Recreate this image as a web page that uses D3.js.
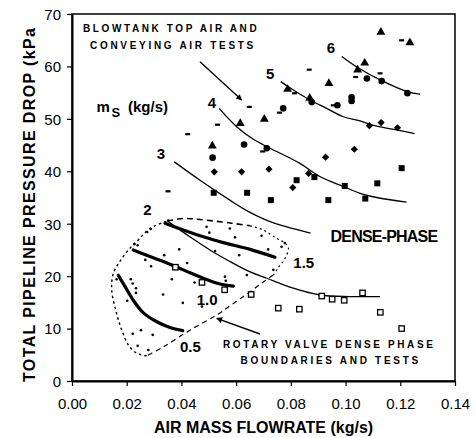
<!DOCTYPE html>
<html><head><meta charset="utf-8">
<script src="https://cdn.jsdelivr.net/npm/d3@7"></script>
<style>
body{margin:0;background:#fff;}
svg{display:block;font-family:"Liberation Sans",Arial,sans-serif;}
</style></head>
<body><svg id="c" width="475" height="438"></svg>
<script>
// ---- data (air mass flowrate kg/s, pressure drop kPa) ----
const xTicks = [0.00,0.02,0.04,0.06,0.08,0.10,0.12,0.14];
const yTicks = [0,10,20,30,40,50,60,70];

const triangles = [[0.0615,49.3],[0.0703,50.1],[0.0513,45.0],[0.0939,56.9],[0.0788,55.8],[0.0869,54.1],[0.1129,66.7],[0.1235,64.7],[0.107,60.8],[0.1044,59.5]];
const circles = [[0.0514,42.6],[0.0629,45.1],[0.0712,44.4],[0.0876,53.2],[0.0772,52.0],[0.097,52.6],[0.1022,53.4],[0.1022,54.1],[0.1078,57.7],[0.1132,57.2],[0.1226,54.9]];
const diamonds = [[0.052,39.9],[0.062,39.9],[0.072,40.4],[0.0927,42.7],[0.0865,39.6],[0.0807,36.9],[0.1032,44.2],[0.1087,48.7],[0.113,49.3],[0.119,48.3]];
const squares = [[0.0518,35.9],[0.064,35.9],[0.0727,34.5],[0.0821,38.3],[0.0886,38.9],[0.0937,34.5],[0.0997,37.2],[0.1072,34.8],[0.1116,37.7],[0.1205,40.6]];
const dashes = [[0.0648,52.3],[0.0532,48.9],[0.0423,47.1],[0.0351,36.2],[0.0867,59.4],[0.0813,54.9],[0.0758,51.2],[0.0697,43.8],[0.1205,65.0],[0.1126,58.7],[0.1037,58.0],[0.0955,52.6]];
const openSquares = [[0.0378,21.7],[0.0475,18.8],[0.0558,17.4],[0.0655,16.5],[0.0754,13.9],[0.0831,13.7],[0.0913,16.2],[0.0951,15.6],[0.0995,15.4],[0.1062,16.8],[0.1127,13.1],[0.1205,10.0]];
const dots = [[0.0228,26.1],[0.0240,25.9],[0.0268,23.1],[0.0289,21.9],[0.0337,24.0],[0.0392,25.1],[0.0421,22.5],[0.0365,19.4],[0.0333,16.5],[0.0405,14.9],[0.0448,18.8],[0.0475,14.2],[0.0559,19.9],[0.0562,19.1],[0.0163,19.4],[0.0215,19.4],[0.0222,18.6],[0.0234,17.7],[0.0234,16.8],[0.0202,15.3],[0.0222,9.0],[0.0252,9.7],[0.0295,8.8],[0.0240,6.7],[0.0279,5.9],[0.0352,30.6],[0.0275,28.4],[0.0288,29.0],[0.0492,29.4],[0.0502,28.3],[0.0577,29.1],[0.0596,27.4],[0.0693,27.7],[0.0717,25.1],[0.0778,26.3],[0.0766,25.6],[0.0523,24.8],[0.0611,24.0],[0.0736,21.2],[0.0639,20.2]];

const curve2 = [[0.0352,30.4],[0.0431,27.5],[0.0504,25.0],[0.0577,22.8],[0.0651,20.8],[0.0712,19.6],[0.0809,17.7],[0.0906,16.4],[0.1016,16.1],[0.1126,16.1]];
const curve3 = [[0.0374,41.8],[0.0468,38.3],[0.0577,34.5],[0.0632,32.7],[0.0724,30.4],[0.0785,29.4],[0.0872,28.2]];
const curve4 = [[0.0538,52.0],[0.0602,48.5],[0.0663,46.1],[0.0724,44.4],[0.0833,41.5],[0.0906,39.0],[0.0992,37.1],[0.1053,35.8],[0.1114,35.0],[0.1223,34.1]];
const curve5 = [[0.0763,57.1],[0.0809,55.5],[0.087,53.6],[0.0931,52.0],[0.0992,50.4],[0.1053,49.6],[0.1114,48.6],[0.1187,47.9],[0.1252,47.2]];
const curve6 = [[0.0986,61.9],[0.1044,59.8],[0.1132,57.3],[0.1226,55.2],[0.1272,54.7]];

const rv15 = [[0.034,30.1],[0.0407,28.8],[0.048,27.5],[0.0553,26.4],[0.0651,25.1],[0.0742,23.6]];
const rv10 = [[0.0224,25.0],[0.0273,24.0],[0.0334,22.8],[0.0407,21.2],[0.048,19.6],[0.0541,18.5],[0.059,18.1]];
const rv05 = [[0.0169,20.2],[0.0194,18.0],[0.0224,15.4],[0.0261,13.0],[0.031,11.3],[0.0358,10.2],[0.0405,9.6]];

const boundTop = [[0.0348,30.5],[0.0407,31.0],[0.0468,30.8],[0.0584,30.1],[0.0651,29.6]];
const boundRight = [[0.0651,29.6],[0.0699,28.8],[0.0748,27.2],[0.0779,26.3],[0.0791,25.4],[0.0779,23.4],[0.0754,21.6],[0.0736,20.2]];
const boundDiag = [[0.0736,20.2],[0.0699,18.9],[0.0651,17.0],[0.059,14.8],[0.0529,12.6],[0.0431,9.7],[0.0334,6.5],[0.0273,4.8]];
const boundLeft = [[0.0273,4.8],[0.0236,5.3],[0.0206,6.9],[0.0182,9.7],[0.0163,12.9],[0.0145,17.4],[0.0151,20.5],[0.0175,22.8],[0.0206,25.0],[0.0242,26.9],[0.0285,29.1],[0.0348,30.5]];

const curveLabels = ["2","3","4","5","6"];
const rvLabels = ["1.5","1.0","0.5"];

// ---- chart ----
const svg = d3.select("#c");
const L=72, R=455, T=14, B=381;
const x = d3.scaleLinear().domain([0,0.14]).range([L,R]);
const y = d3.scaleLinear().domain([0,70]).range([B,T]);
const line = d3.line().x(d=>x(d[0])).y(d=>y(d[1])).curve(d3.curveCatmullRom.alpha(0.5));

// frame
svg.append("rect").attr("x",L).attr("y",T).attr("width",R-L).attr("height",B-T)
  .attr("fill","none").attr("stroke","#000").attr("stroke-width",1.5);

// axes
const xa = svg.append("g").attr("transform",`translate(0,${B})`)
  .call(d3.axisBottom(x).tickValues(xTicks).tickFormat(d3.format(".2f")).tickSize(5).tickSizeOuter(0));
const ya = svg.append("g").attr("transform",`translate(${L},0)`)
  .call(d3.axisLeft(y).tickValues(yTicks).tickSize(5).tickSizeOuter(0));
[xa,ya].forEach(g=>{
  g.select(".domain").attr("stroke","#000").attr("stroke-width",2);
  g.selectAll(".tick line").attr("stroke","#000").attr("stroke-width",1.2);
  g.selectAll(".tick text").attr("fill","#000").style("font-size","15px").style("font-family","'Liberation Sans',Arial,sans-serif");
});
xa.selectAll(".tick text").attr("dy","0").attr("y",28);
ya.selectAll(".tick text").attr("x",-11).attr("dy","0.36em");

// titles
svg.append("text").attr("x",(L+R)/2).attr("y",433).attr("text-anchor","middle")
  .style("font-size","16px").style("font-weight","bold").text("AIR MASS FLOWRATE (kg/s)");
svg.append("text").attr("transform","translate(35,205) rotate(-90)").attr("text-anchor","middle")
  .attr("textLength",354).attr("lengthAdjust","spacing")
  .style("font-size","16px").style("font-weight","bold").text("TOTAL PIPELINE PRESSURE DROP (kPa");

// boundary
const bstyle = [[boundTop,1.6,"6,4"],[boundRight,1.2,"2,3"],[boundDiag,1.2,"5,4"],[boundLeft,1.4,"2.5,3"]];
bstyle.forEach(([d,w,da])=>{
  svg.append("path").attr("d",line(d)).attr("fill","none").attr("stroke","#000")
    .attr("stroke-width",w).attr("stroke-dasharray",da);
});

// thin blowtank curves
[curve2,curve3,curve4,curve5,curve6].forEach(c=>{
  svg.append("path").attr("d",line(c)).attr("fill","none").attr("stroke","#000").attr("stroke-width",1.3);
});
// thick rotary valve curves
[rv15,rv10,rv05].forEach(c=>{
  svg.append("path").attr("d",line(c)).attr("fill","none").attr("stroke","#000").attr("stroke-width",3.2).attr("stroke-linecap","round");
});

// markers
const g = svg.append("g");
g.selectAll(".dot").data(dots).join("circle").attr("cx",d=>x(d[0])).attr("cy",d=>y(d[1])).attr("r",1.3).attr("fill","#000");
g.selectAll(".tri").data(triangles).join("path")
  .attr("transform",d=>`translate(${x(d[0])},${y(d[1])+0.8})`).attr("d",d3.symbol(d3.symbolTriangle,34)).attr("fill","#000");
g.selectAll(".cir").data(circles).join("circle").attr("cx",d=>x(d[0])).attr("cy",d=>y(d[1])).attr("r",3.3).attr("fill","#000");
g.selectAll(".dia").data(diamonds).join("path")
  .attr("transform",d=>`translate(${x(d[0])},${y(d[1])}) rotate(45)`).attr("d",d3.symbol(d3.symbolSquare,26)).attr("fill","#000");
g.selectAll(".sq").data(squares).join("rect").attr("x",d=>x(d[0])-3).attr("y",d=>y(d[1])-3).attr("width",6).attr("height",6).attr("fill","#000");
g.selectAll(".da").data(dashes).join("rect").attr("x",d=>x(d[0])-2.5).attr("y",d=>y(d[1])-1).attr("width",5).attr("height",2.2).attr("fill","#000");
g.selectAll(".osq").data(openSquares).join("rect").attr("x",d=>x(d[0])-2.7).attr("y",d=>y(d[1])-2.7).attr("width",5.4).attr("height",5.4)
  .attr("fill","#fff").attr("stroke","#000").attr("stroke-width",1.3);

// arrows
const defs = svg.append("defs");
defs.append("marker").attr("id","ah").attr("viewBox","0 0 10 10").attr("refX",9).attr("refY",5)
  .attr("markerWidth",8).attr("markerHeight",6).attr("markerUnits","userSpaceOnUse").attr("orient","auto")
  .append("path").attr("d","M0,0L10,5L0,10Z").attr("fill","#000");
svg.append("line").attr("x1",200).attr("y1",61.7).attr("x2",241.7).attr("y2",100)
  .attr("stroke","#000").attr("stroke-width",1.4).attr("marker-end","url(#ah)");
svg.append("line").attr("x1",260).attr("y1",334).attr("x2",216.7).attr("y2",318.3)
  .attr("stroke","#000").attr("stroke-width",1.4).attr("marker-end","url(#ah)");

// annotations
function txt(xp,yp,s,size,opts={}){
  const t = svg.append("text").attr("x",xp).attr("y",yp).style("font-size",size+"px").style("font-weight","bold").text(s);
  if(opts.ls!==undefined) t.style("letter-spacing",opts.ls+"px");
  if(opts.anchor) t.attr("text-anchor",opts.anchor);
  return t;
}
txt(83,32.3,"BLOWTANK TOP AIR AND",10,{ls:2.6});
txt(90,49,"CONVEYING AIR TESTS",10,{ls:2.7});
txt(223,348,"ROTARY VALVE DENSE PHASE",10,{ls:2.6});
txt(240.5,364.3,"BOUNDARIES AND TESTS",10,{ls:2.7});
txt(330.5,242.3,"DENSE-PHASE",16,{ls:-0.8});

const ms = svg.append("text").attr("x",96.5).attr("y",111.7).style("font-size","15px").style("font-weight","bold");
ms.append("tspan").text("m");
ms.append("tspan").attr("x",111.5).attr("y",116.5).style("font-size","13px").text("S");
ms.append("tspan").attr("x",128).attr("y",111.7).text("(kg/s)");

const cl = [[143.3,215],[156.7,159.3],[207.7,108.3],[266,79.3],[326.7,53.3]];
curveLabels.forEach((s,i)=>txt(cl[i][0],cl[i][1],s,15));
const rl = [[293.3,268.3],[196.7,305],[180,351.7]];
rvLabels.forEach((s,i)=>txt(rl[i][0],rl[i][1],s,15));
</script></body></html>
